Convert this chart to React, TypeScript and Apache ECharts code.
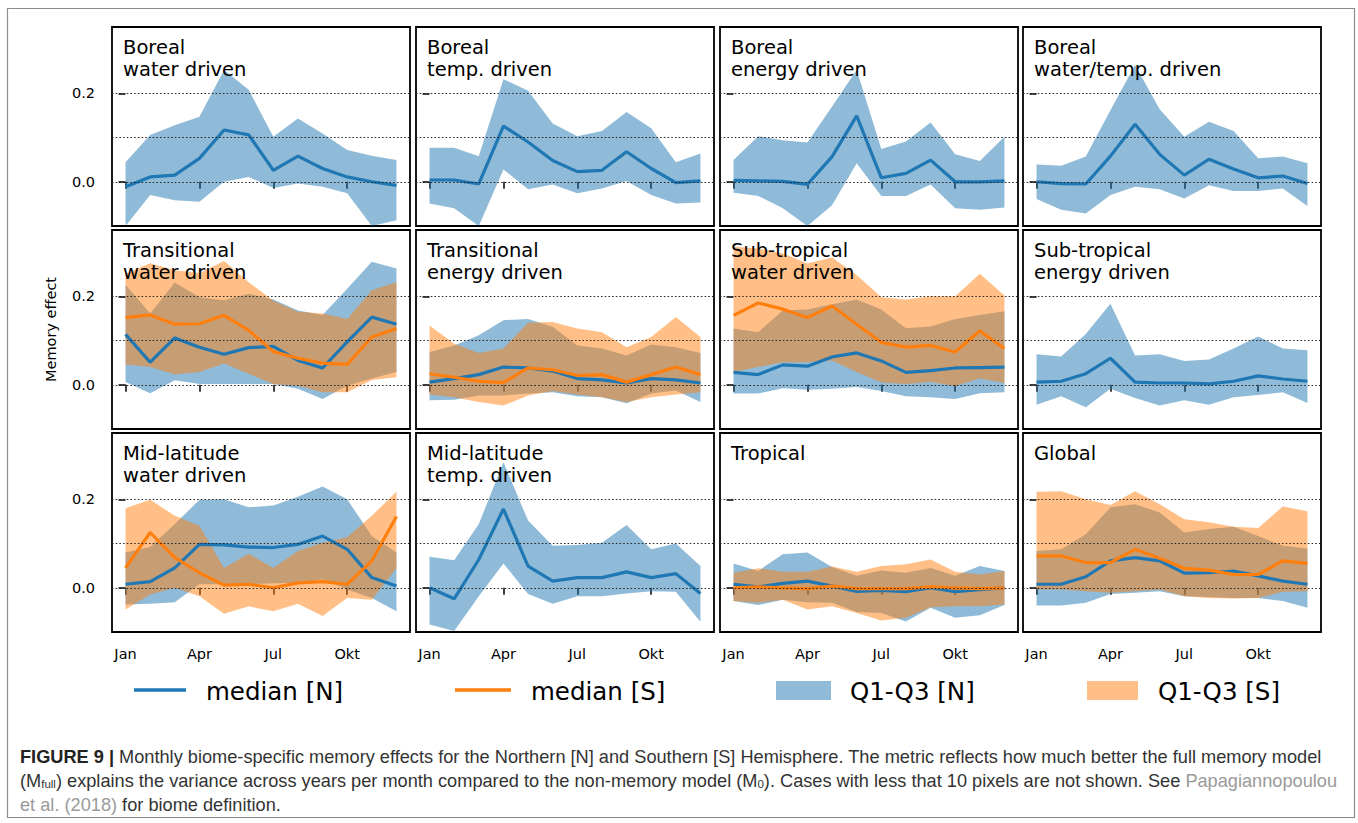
import React, { useEffect, useRef } from "react";
import * as echarts from "echarts";

// ---------- axes ----------
const months = [0, 1, 2, 3, 4, 5, 6, 7, 8, 9, 10, 11];
const xTickValues = [0, 3, 6, 9];
const xTickLabels = ["Jan", "Apr", "Jul", "Okt"];
const yTickValues = [0, 0.2];
const gridLineValues = [0, 0.1, 0.2];
const yMin = -0.1;
const yMax = 0.35;

// ---------- panel titles ----------
const panelTitles = [
  "Boreal\nwater driven",
  "Boreal\ntemp. driven",
  "Boreal\nenergy driven",
  "Boreal\nwater/temp. driven",
  "Transitional\nwater driven",
  "Transitional\nenergy driven",
  "Sub-tropical\nwater driven",
  "Sub-tropical\nenergy driven",
  "Mid-latitude\nwater driven",
  "Mid-latitude\ntemp. driven",
  "Tropical",
  "Global",
];

// ---------- data (N = northern, S = southern) ----------
const p1MedianN = [-0.011, 0.011, 0.015, 0.053, 0.117, 0.106, 0.026, 0.058, 0.03, 0.011, 0.0, -0.008];
const p1UpperN = [0.044, 0.106, 0.128, 0.147, 0.253, 0.208, 0.102, 0.143, 0.109, 0.072, 0.059, 0.049];
const p1LowerN = [-0.1, -0.03, -0.042, -0.045, 0.0, 0.011, -0.014, -0.004, -0.011, -0.026, -0.115, -0.087];

const p2MedianN = [0.004, 0.004, -0.005, 0.126, 0.09, 0.048, 0.023, 0.026, 0.068, 0.03, -0.002, 0.002];
const p2UpperN = [0.077, 0.077, 0.058, 0.232, 0.206, 0.132, 0.103, 0.115, 0.158, 0.121, 0.044, 0.064];
const p2LowerN = [-0.049, -0.06, -0.115, 0.028, -0.017, -0.006, -0.026, -0.015, 0.002, -0.03, -0.049, -0.047];

const p3MedianN = [0.003, 0.002, 0.001, -0.006, 0.057, 0.149, 0.009, 0.019, 0.049, 0.0, 0.0, 0.002];
const p3UpperN = [0.049, 0.103, 0.094, 0.089, 0.17, 0.253, 0.074, 0.091, 0.134, 0.062, 0.047, 0.102];
const p3LowerN = [-0.025, -0.032, -0.06, -0.11, -0.053, 0.042, -0.032, -0.032, -0.006, -0.06, -0.063, -0.058];

const p4MedianN = [0.0, -0.004, -0.005, 0.058, 0.13, 0.062, 0.015, 0.051, 0.029, 0.009, 0.013, -0.004];
const p4UpperN = [0.039, 0.036, 0.057, 0.162, 0.264, 0.164, 0.102, 0.136, 0.115, 0.053, 0.057, 0.042];
const p4LowerN = [-0.039, -0.063, -0.072, -0.03, -0.011, -0.017, -0.038, -0.008, -0.021, -0.021, -0.015, -0.055];

const p5MedianN = [0.114, 0.051, 0.106, 0.085, 0.069, 0.084, 0.087, 0.055, 0.038, 0.097, 0.153, 0.137];
const p5UpperN = [0.226, 0.161, 0.231, 0.198, 0.191, 0.206, 0.193, 0.168, 0.158, 0.217, 0.278, 0.263];
const p5LowerN = [0.006, -0.019, 0.01, 0.002, 0.002, 0.002, 0.002, -0.009, -0.032, -0.002, 0.014, 0.029];
const p5MedianS = [0.152, 0.158, 0.137, 0.138, 0.157, 0.123, 0.075, 0.06, 0.049, 0.046, 0.108, 0.127];
const p5UpperS = [0.251, 0.275, 0.259, 0.253, 0.28, 0.232, 0.19, 0.165, 0.161, 0.149, 0.214, 0.232];
const p5LowerS = [0.046, 0.04, 0.023, 0.029, 0.048, 0.025, 0.002, -0.002, -0.017, -0.017, 0.011, 0.017];

const p6MedianN = [0.006, 0.014, 0.023, 0.04, 0.038, 0.031, 0.014, 0.011, 0.004, 0.014, 0.011, 0.004];
const p6UpperN = [0.074, 0.089, 0.112, 0.146, 0.149, 0.131, 0.089, 0.082, 0.066, 0.091, 0.085, 0.072];
const p6LowerN = [-0.035, -0.034, -0.024, -0.024, -0.02, -0.017, -0.026, -0.028, -0.042, -0.02, -0.013, -0.039];
const p6MedianS = [0.025, 0.017, 0.008, 0.005, 0.038, 0.034, 0.021, 0.023, 0.006, 0.023, 0.04, 0.023];
const p6UpperS = [0.134, 0.093, 0.072, 0.082, 0.14, 0.142, 0.127, 0.119, 0.085, 0.108, 0.153, 0.108];
const p6LowerS = [-0.022, -0.028, -0.039, -0.047, -0.024, -0.014, -0.022, -0.028, -0.039, -0.028, -0.022, -0.017];

const p7MedianN = [0.028, 0.023, 0.045, 0.042, 0.063, 0.072, 0.054, 0.028, 0.032, 0.038, 0.039, 0.04];
const p7UpperN = [0.127, 0.119, 0.168, 0.17, 0.182, 0.193, 0.17, 0.128, 0.132, 0.149, 0.158, 0.166];
const p7LowerN = [-0.02, -0.02, -0.008, -0.011, -0.009, -0.005, -0.014, -0.026, -0.028, -0.032, -0.019, -0.017];
const p7MedianS = [0.157, 0.185, 0.171, 0.152, 0.178, 0.137, 0.096, 0.085, 0.089, 0.074, 0.122, 0.082];
const p7UpperS = [0.312, 0.308, 0.297, 0.274, 0.288, 0.248, 0.198, 0.193, 0.2, 0.2, 0.251, 0.202];
const p7LowerS = [0.029, 0.04, 0.051, 0.051, 0.055, 0.029, 0.005, 0.002, 0.006, -0.003, 0.014, 0.004];

const p8MedianN = [0.006, 0.008, 0.025, 0.06, 0.006, 0.004, 0.004, 0.002, 0.008, 0.02, 0.013, 0.008];
const p8UpperN = [0.069, 0.064, 0.115, 0.183, 0.066, 0.069, 0.054, 0.057, 0.082, 0.109, 0.082, 0.078];
const p8LowerN = [-0.045, -0.026, -0.051, -0.009, -0.03, -0.047, -0.035, -0.045, -0.028, -0.023, -0.017, -0.041];

const p9MedianN = [0.008, 0.014, 0.045, 0.098, 0.097, 0.092, 0.091, 0.098, 0.117, 0.087, 0.023, 0.004];
const p9UpperN = [0.08, 0.092, 0.144, 0.199, 0.2, 0.182, 0.186, 0.206, 0.229, 0.2, 0.117, 0.08];
const p9LowerN = [-0.038, -0.036, -0.033, 0.008, 0.008, 0.008, 0.01, 0.011, 0.019, -0.004, -0.023, -0.053];
const p9MedianS = [0.045, 0.125, 0.068, 0.034, 0.006, 0.008, 0.0, 0.011, 0.014, 0.008, 0.061, 0.161];
const p9UpperS = [0.18, 0.199, 0.163, 0.14, 0.045, 0.077, 0.045, 0.083, 0.102, 0.114, 0.163, 0.217];
const p9LowerS = [-0.049, -0.015, 0.0, -0.019, -0.059, -0.042, -0.053, -0.036, -0.064, -0.023, -0.027, 0.045];

const p10MedianN = [0.0, -0.025, 0.064, 0.178, 0.049, 0.015, 0.023, 0.023, 0.036, 0.023, 0.032, -0.013];
const p10UpperN = [0.07, 0.062, 0.144, 0.284, 0.152, 0.095, 0.097, 0.102, 0.142, 0.087, 0.1, 0.049];
const p10LowerN = [-0.083, -0.098, -0.019, 0.055, -0.014, -0.036, -0.019, -0.019, -0.013, -0.008, -0.009, -0.077];

const p11MedianN = [0.008, 0.002, 0.01, 0.015, 0.004, -0.008, -0.006, -0.009, 0.0, -0.009, -0.004, 0.0];
const p11UpperN = [0.055, 0.038, 0.076, 0.08, 0.047, 0.027, 0.039, 0.034, 0.045, 0.027, 0.049, 0.038];
const p11LowerN = [-0.03, -0.039, -0.027, -0.033, -0.034, -0.055, -0.057, -0.076, -0.045, -0.068, -0.062, -0.039];
const p11MedianS = [0.0, 0.002, 0.0, -0.002, 0.004, -0.002, -0.002, -0.002, 0.002, 0.0, -0.002, 0.0];
const p11UpperS = [0.034, 0.044, 0.036, 0.036, 0.048, 0.036, 0.049, 0.053, 0.064, 0.036, 0.03, 0.038];
const p11LowerS = [-0.03, -0.034, -0.027, -0.049, -0.042, -0.057, -0.074, -0.068, -0.044, -0.042, -0.042, -0.038];

const p12MedianN = [0.008, 0.008, 0.025, 0.061, 0.068, 0.061, 0.033, 0.034, 0.038, 0.027, 0.015, 0.008];
const p12UpperN = [0.083, 0.087, 0.121, 0.182, 0.189, 0.17, 0.125, 0.133, 0.138, 0.117, 0.095, 0.089];
const p12LowerN = [-0.04, -0.04, -0.034, -0.014, -0.011, -0.008, -0.019, -0.021, -0.023, -0.023, -0.03, -0.045];
const p12MedianS = [0.072, 0.072, 0.057, 0.057, 0.087, 0.067, 0.044, 0.04, 0.03, 0.03, 0.061, 0.055];
const p12UpperS = [0.217, 0.218, 0.2, 0.187, 0.218, 0.189, 0.155, 0.148, 0.138, 0.135, 0.184, 0.173];
const p12LowerS = [-0.004, -0.004, -0.008, -0.011, -0.008, -0.004, -0.019, -0.023, -0.024, -0.023, -0.009, -0.008];

const legendLabels = ["median [N]", "median [S]", "Q1-Q3 [N]", "Q1-Q3 [S]"];

type Panel = {
  medN: number[]; upN: number[]; lowN: number[];
  medS?: number[]; upS?: number[]; lowS?: number[];
};

const panels: Panel[] = [
  { medN: p1MedianN, upN: p1UpperN, lowN: p1LowerN },
  { medN: p2MedianN, upN: p2UpperN, lowN: p2LowerN },
  { medN: p3MedianN, upN: p3UpperN, lowN: p3LowerN },
  { medN: p4MedianN, upN: p4UpperN, lowN: p4LowerN },
  { medN: p5MedianN, upN: p5UpperN, lowN: p5LowerN, medS: p5MedianS, upS: p5UpperS, lowS: p5LowerS },
  { medN: p6MedianN, upN: p6UpperN, lowN: p6LowerN, medS: p6MedianS, upS: p6UpperS, lowS: p6LowerS },
  { medN: p7MedianN, upN: p7UpperN, lowN: p7LowerN, medS: p7MedianS, upS: p7UpperS, lowS: p7LowerS },
  { medN: p8MedianN, upN: p8UpperN, lowN: p8LowerN },
  { medN: p9MedianN, upN: p9UpperN, lowN: p9LowerN, medS: p9MedianS, upS: p9UpperS, lowS: p9LowerS },
  { medN: p10MedianN, upN: p10UpperN, lowN: p10LowerN },
  { medN: p11MedianN, upN: p11UpperN, lowN: p11LowerN, medS: p11MedianS, upS: p11UpperS, lowS: p11LowerS },
  { medN: p12MedianN, upN: p12UpperN, lowN: p12LowerN, medS: p12MedianS, upS: p12UpperS, lowS: p12LowerS },
];

const BLUE = "#1f77b4";
const ORANGE = "#ff7f0e";
const FONT = "DejaVu Sans";

const colLefts = [112, 416, 720, 1023];
const rowTops = [27, 230, 433];
const PW = 298;
const PH = 199;

function bandSeries(i: number, lower: number[], upper: number[], color: string, name: string, withGrid: boolean) {
  return {
    type: "custom",
    name,
    xAxisIndex: i,
    yAxisIndex: i,
    silent: true,
    clip: true,
    data: months.map((m) => [m, lower[m], upper[m]]),
    encode: { x: 0, y: [1, 2] },
    renderItem: (params: any, api: any) => {
      if (params.dataIndex !== 0) return null;
      const top = months.map((m) => api.coord([m, upper[m]]));
      const bottom = months.map((m) => api.coord([m, lower[m]])).reverse();
      const cs = params.coordSys;
      const pts = echarts.graphic.clipPointsByRect(top.concat(bottom), cs);
      return {
        type: "polygon",
        shape: { points: pts },
        style: { fill: color, opacity: 0.5 },
      };
    },
    markLine: withGrid
      ? {
          silent: true, symbol: "none", label: { show: false },
          lineStyle: { type: [1.5, 2.2], color: "#222", width: 1.1 },
          data: gridLineValues.map((v) => ({ yAxis: v })),
        }
      : undefined,
  };
}

function buildOption() {
  const grids: any[] = [];
  const xAxes: any[] = [];
  const yAxes: any[] = [];
  const titles: any[] = [];
  const series: any[] = [];

  panels.forEach((p, i) => {
    const r = Math.floor(i / 4);
    const c = i % 4;
    grids.push({
      left: colLefts[c], top: rowTops[r], width: PW, height: PH,
      show: true, borderColor: "#000", borderWidth: 1.8, backgroundColor: "transparent",
      containLabel: false,
    });
    xAxes.push({
      type: "value", gridIndex: i, min: -0.55, max: 11.55,
      axisLine: { show: false },
      splitLine: { show: false },
      axisTick: { show: true, customValues: xTickValues, length: 7, lineStyle: { color: "#000", width: 1.5 } },
      axisLabel: {
        show: r === 2, customValues: xTickValues, margin: 14,
        formatter: (v: number) => xTickLabels[xTickValues.indexOf(Math.round(v))] ?? "",
        color: "#000", fontSize: 14.5, fontFamily: FONT,
      },
    });
    yAxes.push({
      type: "value", gridIndex: i, min: yMin, max: yMax,
      axisLine: { show: false },
      splitLine: { show: false },
      axisTick: { show: true, customValues: yTickValues, length: 7, lineStyle: { color: "#000", width: 1.5 } },
      axisLabel: {
        show: c === 0, customValues: yTickValues, margin: 17,
        formatter: (v: number) => v.toFixed(1),
        color: "#000", fontSize: 14.5, fontFamily: FONT,
      },
      name: i === 4 ? "Memory effect" : "",
      nameLocation: "middle",
      nameGap: 54,
      nameTextStyle: { color: "#000", fontSize: 14.5, fontFamily: FONT },
    });
    titles.push({
      text: panelTitles[i],
      left: colLefts[c] + 11, top: rowTops[r] + 9, padding: 0,
      textStyle: { fontSize: 19.5, fontWeight: "normal", color: "#000", fontFamily: FONT, lineHeight: 22 },
    });

    series.push(bandSeries(i, p.lowN, p.upN, BLUE, legendLabels[2], true));
    if (p.lowS && p.upS) series.push(bandSeries(i, p.lowS, p.upS, ORANGE, legendLabels[3], false));
    series.push({
      name: legendLabels[0], type: "line", xAxisIndex: i, yAxisIndex: i,
      data: months.map((m) => [m, p.medN[m]]), symbol: "none", silent: true,
      lineStyle: { color: BLUE, width: 3.2 },
    });
    if (p.medS) {
      const ms = p.medS;
      series.push({
        name: legendLabels[1], type: "line", xAxisIndex: i, yAxisIndex: i,
        data: months.map((m) => [m, ms[m]]), symbol: "none", silent: true,
        lineStyle: { color: ORANGE, width: 3.2 },
      });
    }
  });

  const legendY = 691;
  const legendFont = `24.5px "${FONT}"`;
  const captionFont = '"Liberation Sans", Arial, sans-serif';
  const CAP = 18.2;
  const capStyle = (text: string, y: number) => ({
    type: "text", x: 20, y,
    style: {
      text, verticalAlign: "middle", fill: "#333", fontFamily: captionFont, fontSize: CAP,
      rich: {
        b: { fontWeight: "bold", fill: "#222", fontFamily: captionFont, fontSize: CAP },
        sub: { fontSize: 11.5, fill: "#333", fontFamily: captionFont, verticalAlign: "bottom", padding: [6, 0, 0, 0] },
        link: { fill: "#9a9a9a", fontFamily: captionFont, fontSize: CAP },
      },
    },
  });

  const graphic: any[] = [
    { type: "rect", shape: { x: 7.5, y: 8.5, width: 1347, height: 809 }, style: { fill: "none", stroke: "#8c8c8c", lineWidth: 1.2 }, silent: true },
    { type: "line", shape: { x1: 134, y1: legendY - 1, x2: 186, y2: legendY - 1 }, style: { stroke: BLUE, lineWidth: 3.5 } },
    { type: "text", x: 206, y: legendY, style: { text: legendLabels[0], font: legendFont, fill: "#000", verticalAlign: "middle" } },
    { type: "line", shape: { x1: 455, y1: legendY - 1, x2: 511, y2: legendY - 1 }, style: { stroke: ORANGE, lineWidth: 3.5 } },
    { type: "text", x: 531, y: legendY, style: { text: legendLabels[1], font: legendFont, fill: "#000", verticalAlign: "middle" } },
    { type: "rect", shape: { x: 776, y: 681, width: 55, height: 19 }, style: { fill: "rgba(31,119,180,0.5)" } },
    { type: "text", x: 850, y: legendY, style: { text: legendLabels[2], font: legendFont, fill: "#000", verticalAlign: "middle" } },
    { type: "rect", shape: { x: 1087, y: 681, width: 51, height: 19 }, style: { fill: "rgba(255,127,14,0.5)" } },
    { type: "text", x: 1158, y: legendY, style: { text: legendLabels[3], font: legendFont, fill: "#000", verticalAlign: "middle" } },
    capStyle(
      "{b|FIGURE 9 |} Monthly biome-specific memory effects for the Northern [N] and Southern [S] Hemisphere. The metric reflects how much better the full memory model",
      757
    ),
    capStyle(
      "(M{sub|full}) explains the variance across years per month compared to the non-memory model (M{sub|0}). Cases with less that 10 pixels are not shown. See {link|Papagiannopoulou}",
      781
    ),
    capStyle("{link|et al. (2018)} for biome definition.", 805),
  ];

  return {
    animation: false,
    backgroundColor: "#fff",
    textStyle: { fontFamily: FONT },
    title: titles,
    grid: grids,
    xAxis: xAxes,
    yAxis: yAxes,
    series,
    graphic,
  };
}

export default function App() {
  const ref = useRef<HTMLDivElement>(null);
  useEffect(() => {
    if (!ref.current) return;
    const chart = echarts.init(ref.current, undefined, { renderer: "svg" });
    chart.setOption(buildOption() as any);
    return () => chart.dispose();
  }, []);
  return (
    <div
      ref={ref}
      style={{ position: "fixed", left: 0, top: 0, width: 1358, height: 823, background: "#fff" }}
    />
  );
}
